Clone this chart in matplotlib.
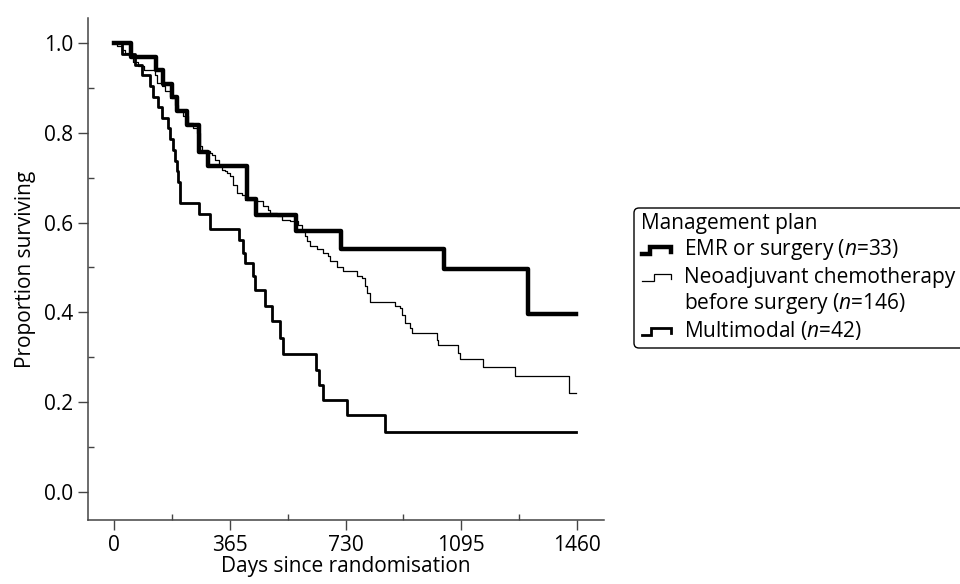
import matplotlib
matplotlib.use("Agg")
import matplotlib.pyplot as plt
from matplotlib.patches import FancyBboxPatch
from matplotlib.lines import Line2D

plt.rcParams['font.family'] = ['Open Sans', 'DejaVu Sans']
plt.rcParams['mathtext.fontset'] = 'custom'
plt.rcParams['mathtext.rm'] = 'Open Sans'
plt.rcParams['mathtext.it'] = 'Open Sans:italic'

# Kaplan-Meier curves (days, proportion surviving)
emr_days = [0, 54, 133, 155, 183, 200, 231, 270, 296, 419, 448, 573, 715, 1040, 1304, 1455]
emr_surv = [1.0, 0.970, 0.939, 0.909, 0.879, 0.848, 0.818, 0.758, 0.727, 0.652, 0.617,
            0.582, 0.541, 0.497, 0.397, 0.397]

neo_days = [0, 10, 25, 36, 52, 62, 78, 94, 130, 136, 151, 162, 178, 193, 204, 219, 235,
            251, 262, 272, 277, 302, 309, 319, 330, 340, 351, 356, 366, 377, 387, 403,
            414, 450, 471, 487, 492, 513, 529, 555, 581, 592, 603, 608, 618, 639, 660,
            676, 681, 702, 723, 765, 781, 791, 797, 807, 886, 902, 907, 917, 933, 938,
            1017, 1022, 1085, 1090, 1162, 1264, 1435, 1455]
neo_surv = [1.0, 0.993, 0.985, 0.978, 0.971, 0.959, 0.948, 0.941, 0.930, 0.911, 0.904,
            0.893, 0.878, 0.863, 0.848, 0.837, 0.822, 0.811, 0.800, 0.770, 0.759, 0.755,
            0.751, 0.740, 0.725, 0.718, 0.714, 0.711, 0.703, 0.684, 0.666, 0.662, 0.651,
            0.647, 0.636, 0.629, 0.621, 0.614, 0.606, 0.603, 0.595, 0.584, 0.569, 0.558,
            0.547, 0.540, 0.532, 0.525, 0.514, 0.502, 0.491, 0.480, 0.476, 0.458, 0.443,
            0.424, 0.413, 0.410, 0.395, 0.376, 0.365, 0.354, 0.339, 0.326, 0.309, 0.296,
            0.279, 0.259, 0.221, 0.221]

mm_days = [0, 25, 67, 88, 115, 123, 141, 151, 172, 178, 188, 193, 200, 204, 209, 267,
           303, 393, 408, 414, 440, 445, 477, 498, 524, 534, 637, 648, 658, 734, 854, 1455]
mm_surv = [1.0, 0.976, 0.952, 0.929, 0.905, 0.881, 0.857, 0.833, 0.810, 0.786, 0.762,
           0.738, 0.714, 0.690, 0.643, 0.619, 0.586, 0.562, 0.533, 0.510, 0.480, 0.449,
           0.413, 0.380, 0.343, 0.308, 0.272, 0.239, 0.204, 0.170, 0.134, 0.134]

legend_title = "Management plan"
legend_labels = ["EMR or surgery ($n$=33)",
                 "Neoadjuvant chemotherapy",
                 "before surgery ($n$=146)",
                 "Multimodal ($n$=42)"]

x_ticks = [0, 365, 730, 1095, 1460]
y_ticks = [0.0, 0.2, 0.4, 0.6, 0.8, 1.0]

FS = 15

fig = plt.figure(figsize=(9.6, 5.84), dpi=100)
ax = fig.add_axes([88 / 960, 1 - 520 / 584, (604 - 88) / 960, (520 - 18) / 584])

ax.step(neo_days, neo_surv, where='post', color='black', lw=0.9)
ax.step(mm_days, mm_surv, where='post', color='black', lw=2.0)
ax.step(emr_days, emr_surv, where='post', color='black', lw=3.2)

ax.set_xlim(-81, 1544)
ax.set_ylim(-0.063, 1.056)

ax.set_xticks(x_ticks)
ax.set_xticks([182.5, 547.5, 912.5, 1277.5], minor=True)
ax.set_yticks(y_ticks)
ax.set_yticklabels(["%.1f" % v for v in y_ticks])
ax.set_yticks([0.1, 0.3, 0.5, 0.7, 0.9], minor=True)

for s in ['top', 'right']:
    ax.spines[s].set_visible(False)
for s in ['left', 'bottom']:
    ax.spines[s].set_color('#444444')
    ax.spines[s].set_linewidth(1.1)

ax.tick_params(which='major', direction='out', length=7.5, width=1, color='#444444',
               labelsize=FS, pad=3)
ax.tick_params(which='minor', direction='in', length=4.5, width=1, color='#444444')

ax.set_xlabel("Days since randomisation", fontsize=FS, labelpad=0)
ax.set_ylabel("Proportion surviving", fontsize=FS, labelpad=6)

# legend drawn by hand, in pixel-like coordinates (inches * 100)
tr = fig.dpi_scale_trans


def P(x, y):
    return x / 100, (584 - y) / 100


box = FancyBboxPatch(P(634, 348), 4.0, 1.40,
                     boxstyle="round,pad=0,rounding_size=0.05",
                     transform=tr, fc='white', ec='black', lw=1.0)
fig.patches.append(box)

fig.text(*P(641, 223), legend_title, transform=tr, fontsize=FS, va='center')

rows = [250, 277, 304, 331]
for y, lab in zip(rows, legend_labels):
    fig.text(*P(684, y), lab, transform=tr, fontsize=FS, va='center')

for y, lw, xr in [(rows[0], 3.2, 650), (rows[1], 0.9, 654), (rows[3], 2.0, 651)]:
    xs = [642, xr, xr, 671, 671]
    ys = [y + 4, y + 4, y - 3, y - 3, y + 2]
    pts = [P(a, b) for a, b in zip(xs, ys)]
    fig.lines.append(Line2D([p[0] for p in pts], [p[1] for p in pts],
                            transform=tr, color='black', lw=lw,
                            solid_joinstyle='miter'))

fig.savefig("out.png", dpi=100)
